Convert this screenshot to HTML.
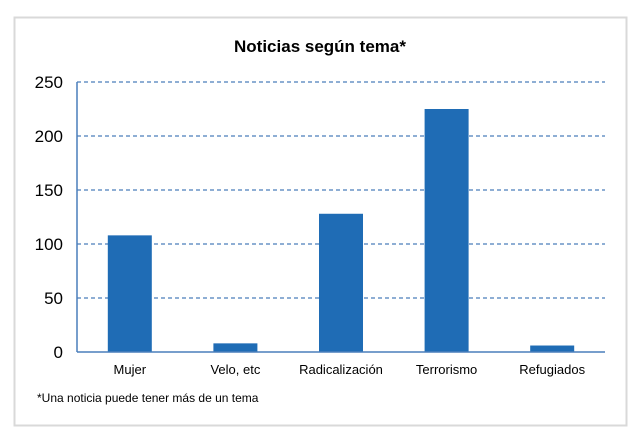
<!DOCTYPE html>
<html><head><meta charset="utf-8"><style>
body{margin:0;background:#fff;width:640px;height:441px;overflow:hidden;font-family:"Liberation Sans",sans-serif}
</style></head><body>
<svg width="640" height="441">
<rect x="14.5" y="17.5" width="612" height="408" fill="#fff" stroke="#d9d9d9" stroke-width="2"/>
<text x="320" y="52" text-anchor="middle" font-size="17" font-weight="bold" fill="#000">Noticias según tema*</text>
<g id="plot"></g>
<text x="37" y="402" font-size="12" fill="#000" font-family="'Liberation Sans Narrow','Liberation Sans',sans-serif">*Una noticia puede tener más de un tema</text>
</svg>
<script>
const categories=["Mujer","Velo, etc","Radicalización","Terrorismo","Refugiados"];
const values=[108,8,128,225,6];
const ticks=[0,50,100,150,200,250];
const x0=77,x1=605,yTop=82,yBot=352,maxV=250;
const ns="http://www.w3.org/2000/svg";
const g=document.getElementById("plot");
function y(v){return yBot-(v/maxV)*(yBot-yTop);}
const band=(x1-x0)/categories.length;
function xc(i){return x0+band*(i+0.5);}
function mk(t,a){const e=document.createElementNS(ns,t);for(const k in a)e.setAttribute(k,a[k]);g.appendChild(e);return e;}
ticks.forEach(t=>{
 if(t>0){const l=mk("line",{x1:x0,x2:x1,y1:y(t),y2:y(t),stroke:"#4a7ebb","stroke-width":1.2,"stroke-dasharray":"4,3"});
 
 }
 const tx=mk("text",{x:63,y:y(t)+6,"text-anchor":"end","font-size":"17",fill:"#000"});
 tx.textContent=t;
 
 
});
categories.forEach((c,i)=>{
 const r=mk("rect",{x:xc(i)-22,y:y(values[i]),width:44,height:yBot-y(values[i]),fill:"#1f6cb5"});
 
 
 const tx=mk("text",{x:xc(i),y:374,"text-anchor":"middle","font-size":"13",fill:"#000"});
 tx.textContent=c;
 
 
});
const ya=mk("line",{x1:x0,x2:x0,y1:yTop,y2:yBot,stroke:"#4a7ebb","stroke-width":1.5});


const xa=mk("line",{x1:x0,x2:x1,y1:yBot,y2:yBot,stroke:"#4a7ebb","stroke-width":1.5});


</script>
</body></html>
